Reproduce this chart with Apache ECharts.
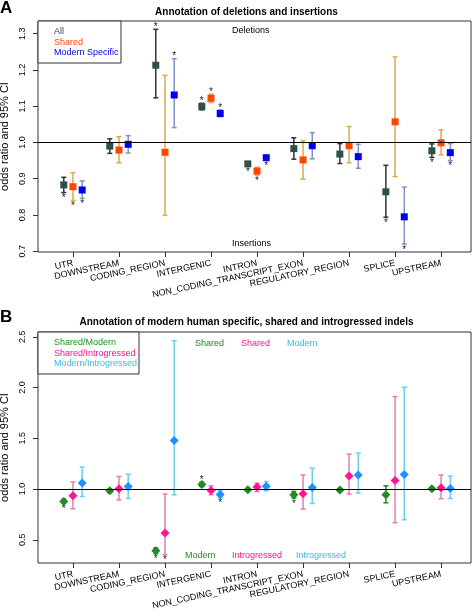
<!DOCTYPE html>
<html>
<head>
<meta charset="utf-8">
<script src="https://cdn.jsdelivr.net/npm/echarts@6/dist/echarts.min.js"></script>
<style>
html,body{margin:0;padding:0;background:#fff;}
#chart{width:472px;height:612px;}
</style>
</head>
<body>
<div id="chart"></div>
<script>
// ---------- data ----------
const categories = ['UTR','DOWNSTREAM','CODING_REGION','INTERGENIC','INTRON','NON_CODING_TRANSCRIPT_EXON','REGULATORY_REGION','SPLICE','UPSTREAM'];

// Panel A: deletions and insertions (odds ratio, 95% CI, significance: 1 above, -1 below, 0 none)
const allOR   = [0.883, 0.990, 1.213, 1.099, 0.941, 0.983, 0.968, 0.864, 0.977];
const allLo   = [0.862, 0.970, 1.123, 1.090, 0.935, 0.954, 0.942, 0.794, 0.959];
const allHi   = [0.904, 1.010, 1.312, 1.108, 0.947, 1.013, 0.997, 0.937, 0.996];
const allSig  = [-1, 0, 1, 1, -1, 0, 0, -1, -1];

const sharedOR  = [0.878, 0.979, 0.973, 1.122, 0.921, 0.952, 0.991, 1.057, 0.999];
const sharedLo  = [0.840, 0.944, 0.799, 1.110, 0.910, 0.899, 0.944, 0.906, 0.966];
const sharedHi  = [0.917, 1.016, 1.185, 1.133, 0.932, 1.005, 1.044, 1.236, 1.035];
const sharedSig = [-1, 0, 0, 1, -1, 0, 0, 0, 0];

const modernOR  = [0.869, 0.995, 1.131, 1.080, 0.958, 0.991, 0.961, 0.795, 0.972];
const modernLo  = [0.846, 0.971, 1.041, 1.071, 0.952, 0.955, 0.929, 0.720, 0.950];
const modernHi  = [0.894, 1.019, 1.231, 1.090, 0.964, 1.027, 0.995, 0.877, 0.997];
const modernSig = [-1, 0, 1, 1, -1, 0, 0, -1, -1];

// Panel B: modern specific / shared / introgressed
const smOR  = [0.878, 0.983, 0.393, 1.045, 0.993, 0.944, 0.990, 0.944, 1.003];
const smLo  = [0.865, 0.965, 0.365, 1.025, 0.980, 0.912, 0.975, 0.865, 0.990];
const smHi  = [0.900, 1.000, 0.420, 1.068, 1.006, 0.976, 1.005, 1.032, 1.016];
const smSig = [-1, 0, -1, 1, 0, -1, 0, 0, 0];

const siOR  = [0.934, 1.003, 0.567, 0.986, 1.020, 0.954, 1.128, 1.085, 1.013];
const siLo  = [0.806, 0.892, 0.354, 0.944, 0.975, 0.803, 0.951, 0.669, 0.905];
const siHi  = [1.069, 1.124, 0.951, 1.032, 1.058, 1.138, 1.344, 1.911, 1.138];
const siSig = [0, 0, -1, 0, 0, 0, 0, 0, 0];

const miOR  = [1.059, 1.026, 1.478, 0.947, 1.029, 1.016, 1.138, 1.144, 1.006];
const miLo  = [0.927, 0.908, 0.944, 0.915, 0.985, 0.858, 0.961, 0.698, 0.908];
const miHi  = [1.216, 1.147, 2.461, 0.985, 1.075, 1.206, 1.354, 2.003, 1.128];
const miSig = [0, 0, 0, -1, 0, 0, 0, 0, 0];

const yTicksA = [0.7, 0.8, 0.9, 1.0, 1.1, 1.2, 1.3];
const yTicksB = [0.5, 1.0, 1.5, 2.0, 2.5];
const xTicks = [1, 2, 3, 4, 5, 6, 7, 8, 9];

// ---------- helpers ----------
const FONT = 'Liberation Sans, Arial, Helvetica, sans-serif';
const offsets = [-0.2, 0, 0.2];

function pointData(vals, off) { return vals.map((v, i) => [i + 1 + off, v]); }
function errData(lo, hi, sig, off) { return lo.map((l, i) => [i + 1 + off, l, hi[i], sig[i]]); }

function errRender(color) {
  return function (params, api) {
    const x = api.value(0), lo = api.value(1), hi = api.value(2), sig = api.value(3);
    const pLo = api.coord([x, lo]);
    const pHi = api.coord([x, hi]);
    const w = 2.5;
    const st = { stroke: color, lineWidth: 1.5 };
    const children = [
      { type: 'line', shape: { x1: pLo[0], y1: pLo[1], x2: pHi[0], y2: pHi[1] }, style: st },
      { type: 'line', shape: { x1: pLo[0] - w, y1: pLo[1], x2: pLo[0] + w, y2: pLo[1] }, style: st },
      { type: 'line', shape: { x1: pHi[0] - w, y1: pHi[1], x2: pHi[0] + w, y2: pHi[1] }, style: st }
    ];
    if (sig) {
      children.push({
        type: 'text',
        style: {
          text: '*', x: pLo[0], y: sig > 0 ? pHi[1] - 2 : pLo[1] + 6,
          align: 'center', verticalAlign: 'middle',
          fontSize: 10, fontFamily: FONT, fill: '#222'
        }
      });
    }
    return { type: 'group', children: children };
  };
}

function errSeries(name, lo, hi, sig, off, color, gi) {
  return {
    name: name, type: 'custom', xAxisIndex: gi, yAxisIndex: gi,
    renderItem: errRender(color), data: errData(lo, hi, sig, off),
    encode: { x: 0, y: [1, 2] }, z: 2, silent: true
  };
}
function ptSeries(name, vals, off, color, symbol, size, gi, withLine) {
  const s = {
    name: name, type: 'scatter', xAxisIndex: gi, yAxisIndex: gi,
    data: pointData(vals, off), symbol: symbol, symbolSize: size,
    itemStyle: { color: color, opacity: 1 }, z: 3, silent: true
  };
  if (withLine) {
    s.markLine = {
      silent: true, symbol: ['none', 'none'], animation: false,
      data: [{ yAxis: 1 }], label: { show: false },
      lineStyle: { color: '#000', width: 1, type: 'solid' }
    };
  }
  return s;
}

function xAxisCfg(gi) {
  return {
    type: 'value', gridIndex: gi, min: 0.24, max: 9.65,
    axisLine: { show: false }, splitLine: { show: false },
    axisTick: { show: true, customValues: xTicks, length: 5, lineStyle: { color: '#333', width: 1 } },
    axisLabel: {
      customValues: xTicks, rotate: 12, fontSize: 9, margin: 11, color: '#000', fontFamily: FONT,
      formatter: v => categories[Math.round(v) - 1]
    }
  };
}
function yAxisCfg(gi, min, max, ticks) {
  return {
    type: 'value', gridIndex: gi, min: min, max: max,
    name: 'odds ratio and 95% CI', nameLocation: 'middle', nameGap: 21,
    nameTextStyle: { fontSize: 11, fontFamily: FONT, color: '#000' },
    axisLine: { show: false }, splitLine: { show: false },
    axisTick: { show: true, customValues: ticks, length: 5, lineStyle: { color: '#333', width: 1 } },
    axisLabel: {
      customValues: ticks, rotate: 90, fontSize: 9, margin: 11, color: '#000', fontFamily: FONT,
      formatter: v => Number(v).toFixed(1)
    }
  };
}

// colours
const cAll = '#2F4F4F', cShared = '#FF4500', cModern = '#0000EE';
const eAll = '#333333', eShared = '#DDA94A', eModern = '#8090C8';
const cSM = '#228B22', cSI = '#FF1493', cMI = '#1E90FF';
const eSM = '#228B22', eSI = '#E67DB2', eMI = '#6CCDEE';
const tMI = '#33BBEE';

const series = [
  errSeries('All', allLo, allHi, allSig, offsets[0], eAll, 0),
  errSeries('Shared', sharedLo, sharedHi, sharedSig, offsets[1], eShared, 0),
  errSeries('Modern Specific', modernLo, modernHi, modernSig, offsets[2], eModern, 0),
  ptSeries('All', allOR, offsets[0], cAll, 'rect', 7, 0, true),
  ptSeries('Shared', sharedOR, offsets[1], cShared, 'rect', 7, 0, false),
  ptSeries('Modern Specific', modernOR, offsets[2], cModern, 'rect', 7, 0, false),

  errSeries('Shared/Modern', smLo, smHi, smSig, offsets[0], eSM, 1),
  errSeries('Shared/Introgressed', siLo, siHi, siSig, offsets[1], eSI, 1),
  errSeries('Modern/Introgressed', miLo, miHi, miSig, offsets[2], eMI, 1),
  ptSeries('Shared/Modern', smOR, offsets[0], cSM, 'diamond', 9, 1, true),
  ptSeries('Shared/Introgressed', siOR, offsets[1], cSI, 'diamond', 9, 1, false),
  ptSeries('Modern/Introgressed', miOR, offsets[2], cMI, 'diamond', 9, 1, false)
];

function txt(x, y, text, color, extra) {
  return Object.assign({
    type: 'text', x: x, y: y, z: 10,
    style: Object.assign({ text: text, fill: color, fontSize: 9, fontFamily: FONT, verticalAlign: 'middle', align: 'left' }, extra || {})
  });
}

const graphic = [
  // Panel A legend
  { type: 'rect', z: 9, shape: { x: 38, y: 21, width: 83, height: 42 }, style: { fill: '#fff', stroke: '#333', lineWidth: 1 } },
  txt(54, 32, 'All', cAll),
  txt(54, 42.3, 'Shared', cShared),
  txt(54, 52.6, 'Modern Specific', cModern),
  txt(232, 31, 'Deletions', '#000'),
  txt(232, 244, 'Insertions', '#000'),
  // Panel B legend
  { type: 'rect', z: 9, shape: { x: 38, y: 332, width: 101, height: 42 }, style: { fill: '#fff', stroke: '#333', lineWidth: 1 } },
  txt(54, 343, 'Shared/Modern', cSM),
  txt(54, 353.2, 'Shared/Introgressed', cSI),
  txt(54, 363.4, 'Modern/Introgressed', tMI),
  txt(195, 344, 'Shared', cSM),
  txt(241, 344, 'Shared', cSI),
  txt(287, 344, 'Modern', tMI),
  txt(185, 556, 'Modern', cSM),
  txt(232, 556, 'Introgressed', cSI),
  txt(296, 556, 'Introgressed', tMI)
];

const gridBase = { show: true, borderColor: '#333', borderWidth: 1, backgroundColor: 'transparent', containLabel: false, outerBoundsMode: 'none' };

const option = {
  animation: false,
  backgroundColor: '#fff',
  title: [
    { text: 'A', left: 0, top: 0, padding: 0, textStyle: { fontSize: 17, fontWeight: 'bold', fontFamily: FONT, color: '#000' } },
    { text: 'Annotation of deletions and insertions', left: 246.5, top: 7.5, padding: 0, textAlign: 'center',
      textStyle: { fontSize: 10, fontWeight: 'bold', fontFamily: FONT, color: '#000' } },
    { text: 'B', left: 0, top: 309, padding: 0, textStyle: { fontSize: 17, fontWeight: 'bold', fontFamily: FONT, color: '#000' } },
    { text: 'Annotation of modern human specific, shared and introgressed indels', left: 246.5, top: 317.5, padding: 0, textAlign: 'center',
      textStyle: { fontSize: 10, fontWeight: 'bold', fontFamily: FONT, color: '#000' } }
  ],
  grid: [
    Object.assign({ left: 38, top: 21, width: 433, height: 231 }, gridBase),
    Object.assign({ left: 38, top: 332, width: 433, height: 231 }, gridBase)
  ],
  xAxis: [xAxisCfg(0), xAxisCfg(1)],
  yAxis: [yAxisCfg(0, 0.698, 1.335, yTicksA), yAxisCfg(1, 0.272, 2.547, yTicksB)],
  series: series,
  graphic: graphic
};

const chart = echarts.init(document.getElementById('chart'), null, { renderer: 'canvas' });
chart.setOption(option);
</script>
</body>
</html>
